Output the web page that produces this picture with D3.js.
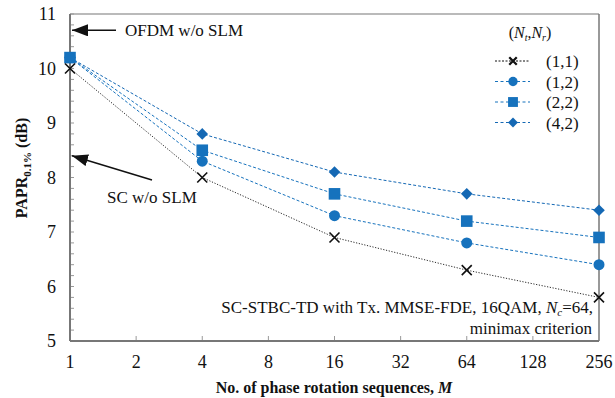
<!DOCTYPE html>
<html><head><meta charset="utf-8">
<script src="https://cdn.jsdelivr.net/npm/d3@7"></script>
<style>body{margin:0;background:#fff}svg{display:block}text{font-family:"Liberation Serif","DejaVu Serif",serif;fill:#111}</style>
</head><body><svg id="c" width="615" height="398"></svg>
<script>
const M = [1, 4, 16, 64, 256];
const xTicks = [1, 2, 4, 8, 16, 32, 64, 128, 256];
const yTicks = [5, 6, 7, 8, 9, 10, 11];
const s11 = [10.0, 8.0, 6.9, 6.3, 5.8];
const s12 = [10.2, 8.3, 7.3, 6.8, 6.4];
const s22 = [10.2, 8.5, 7.7, 7.2, 6.9];
const s42 = [10.2, 8.8, 8.1, 7.7, 7.4];
const seriesNames = ["(1,1)", "(1,2)", "(2,2)", "(4,2)"];
const ofdmRef = 10.7, scRef = 8.4;

const svg = d3.select("#c");
const L = 70, T = 14, R = 599, B = 341;
const x = d3.scaleLog().base(2).domain([1, 256]).range([L, R]);
const y = d3.scaleLinear().domain([5, 11]).range([B, T]);
const blue = "#1672bd";
const series = [
  {name: seriesNames[0], v: s11, color: "#111", dash: "1.2,1.6", mk: "x"},
  {name: seriesNames[1], v: s12, color: blue, dash: "3,2", mk: "circle"},
  {name: seriesNames[2], v: s22, color: blue, dash: "3,2", mk: "square"},
  {name: seriesNames[3], v: s42, color: "#1468b4", dash: "3,2", mk: "diamond"}
];

// frame
svg.append("line").attr("x1", L).attr("x2", R).attr("y1", T).attr("y2", T).attr("stroke", "#777").attr("stroke-width", 1.2);
svg.append("line").attr("x1", R).attr("x2", R).attr("y1", T).attr("y2", B).attr("stroke", "#777").attr("stroke-width", 1.5);

// y axis with minor ticks
const yMinor = d3.range(5, 11.001, 0.2);
svg.append("g").selectAll("line").data(yMinor).join("line")
  .attr("x1", L).attr("x2", L + 4).attr("y1", d => y(d)).attr("y2", d => y(d))
  .attr("stroke", "#999").attr("stroke-width", 1);
svg.append("g").selectAll("text").data(yTicks).join("text")
  .attr("x", 56).attr("y", d => y(d) + 6).attr("text-anchor", "end")
  .attr("font-size", 18).text(d => d);
// x ticks
svg.append("g").selectAll("line").data(xTicks).join("line")
  .attr("x1", d => x(d)).attr("x2", d => x(d)).attr("y1", B).attr("y2", B - 5)
  .attr("stroke", "#999").attr("stroke-width", 1);
svg.append("g").selectAll("text").data(xTicks).join("text")
  .attr("x", d => x(d)).attr("y", 368).attr("text-anchor", "middle")
  .attr("font-size", 18).text(d => d);
svg.append("line").attr("x1", L).attr("x2", L).attr("y1", T).attr("y2", B).attr("stroke", "#777").attr("stroke-width", 2);
svg.append("line").attr("x1", L).attr("x2", R).attr("y1", B).attr("y2", B).attr("stroke", "#777").attr("stroke-width", 2);

// axis titles
const xt = svg.append("text").attr("x", 334).attr("y", 393).attr("text-anchor", "middle")
  .attr("font-size", 16).attr("font-weight", "bold");
xt.append("tspan").text("No. of phase rotation sequences, ");
xt.append("tspan").attr("font-style", "italic").text("M");
const yt = svg.append("text").attr("transform", "translate(27,168) rotate(-90)")
  .attr("text-anchor", "middle").attr("font-size", 16).attr("font-weight", "bold");
yt.append("tspan").text("PAPR");
yt.append("tspan").attr("font-size", 11).attr("dy", 4).text("0.1%");
yt.append("tspan").attr("dy", -4).text(" (dB)");

// markers
function marker(g, type, cx, cy, color, scale) {
  scale = scale || 1;
  if (type === "x") {
    const r = 5 * scale;
    g.append("path").attr("d", `M${cx - r},${cy - r}L${cx + r},${cy + r}M${cx - r},${cy + r}L${cx + r},${cy - r}`)
      .attr("stroke", color).attr("stroke-width", 1.6 * (scale < 1 ? 1.4 : 1)).attr("fill", "none");
  } else if (type === "circle") {
    g.append("circle").attr("cx", cx).attr("cy", cy).attr("r", 5.5 * scale).attr("fill", color);
  } else if (type === "square") {
    const h = 5.8 * scale;
    g.append("rect").attr("x", cx - h).attr("y", cy - h).attr("width", 2 * h).attr("height", 2 * h).attr("fill", color);
  } else {
    const h = 5.8 * scale;
    g.append("path").attr("d", `M${cx},${cy - h}L${cx + h},${cy}L${cx},${cy + h}L${cx - h},${cy}Z`).attr("fill", color);
  }
}

const line = d3.line().x((d, i) => x(M[i])).y(d => y(d));
series.slice().reverse().forEach(s => {
  svg.append("path").attr("d", line(s.v)).attr("fill", "none")
    .attr("stroke", s.color).attr("stroke-width", s.mk === "x" ? 0.9 : 1).attr("stroke-dasharray", s.dash);
});
series.slice().reverse().forEach(s => {
  const g = svg.append("g");
  s.v.forEach((v, i) => marker(g, s.mk, x(M[i]), y(v), s.color));
});

// arrows
svg.append("defs").append("marker").attr("id", "ah2").attr("viewBox", "0 0 16 12")
  .attr("refX", 16).attr("refY", 6).attr("markerWidth", 16).attr("markerHeight", 12)
  .attr("markerUnits", "userSpaceOnUse").attr("orient", "auto")
  .append("path").attr("d", "M0,0L16,6L0,12Z").attr("fill", "#111");
svg.append("line").attr("x1", 116).attr("x2", x(1) + 2).attr("y1", y(ofdmRef)).attr("y2", y(ofdmRef))
  .attr("stroke", "#111").attr("stroke-width", 1.5).attr("marker-end", "url(#ah2)");
svg.append("text").attr("x", 125).attr("y", y(ofdmRef) + 6).attr("font-size", 17).text("OFDM w/o SLM");
svg.append("line").attr("x1", 152).attr("x2", x(1) + 2).attr("y1", 180).attr("y2", y(scRef))
  .attr("stroke", "#111").attr("stroke-width", 1.5).attr("marker-end", "url(#ah2)");
svg.append("text").attr("x", 107).attr("y", 203).attr("font-size", 17).text("SC w/o SLM");

// bottom-right annotation
const a1 = svg.append("text").attr("x", 593).attr("y", 313).attr("text-anchor", "end").attr("font-size", 17);
a1.append("tspan").text("SC-STBC-TD with Tx. MMSE-FDE, 16QAM, ");
a1.append("tspan").attr("font-style", "italic").text("N");
a1.append("tspan").attr("font-style", "italic").attr("font-size", 11).attr("dy", 3).text("c");
a1.append("tspan").attr("dy", -3).text("=64,");
svg.append("text").attr("x", 592).attr("y", 334).attr("text-anchor", "end").attr("font-size", 17).text("minimax criterion");

// legend
const lh = svg.append("text").attr("x", 530).attr("y", 38).attr("text-anchor", "middle").attr("font-size", 16);
lh.append("tspan").text("(");
lh.append("tspan").attr("font-style", "italic").text("N");
lh.append("tspan").attr("font-style", "italic").attr("font-size", 10).attr("dy", 3).text("t");
lh.append("tspan").attr("dy", -3).text(",");
lh.append("tspan").attr("font-style", "italic").text("N");
lh.append("tspan").attr("font-style", "italic").attr("font-size", 10).attr("dy", 3).text("r");
lh.append("tspan").attr("dy", -3).text(")");
series.forEach((s, i) => {
  const ly = 61 + i * 20.5;
  const g = svg.append("g");
  g.append("line").attr("x1", 495).attr("x2", 530).attr("y1", ly).attr("y2", ly)
    .attr("stroke", s.color).attr("stroke-width", 1).attr("stroke-dasharray", s.mk === "x" ? "2,1.5" : "3,2.5");
  marker(g, s.mk, 513, ly, s.color, s.mk === "x" ? 0.75 : 0.85);
  g.append("text").attr("x", 546).attr("y", ly + 6).attr("font-size", 17).text(s.name);
});
</script></body></html>
